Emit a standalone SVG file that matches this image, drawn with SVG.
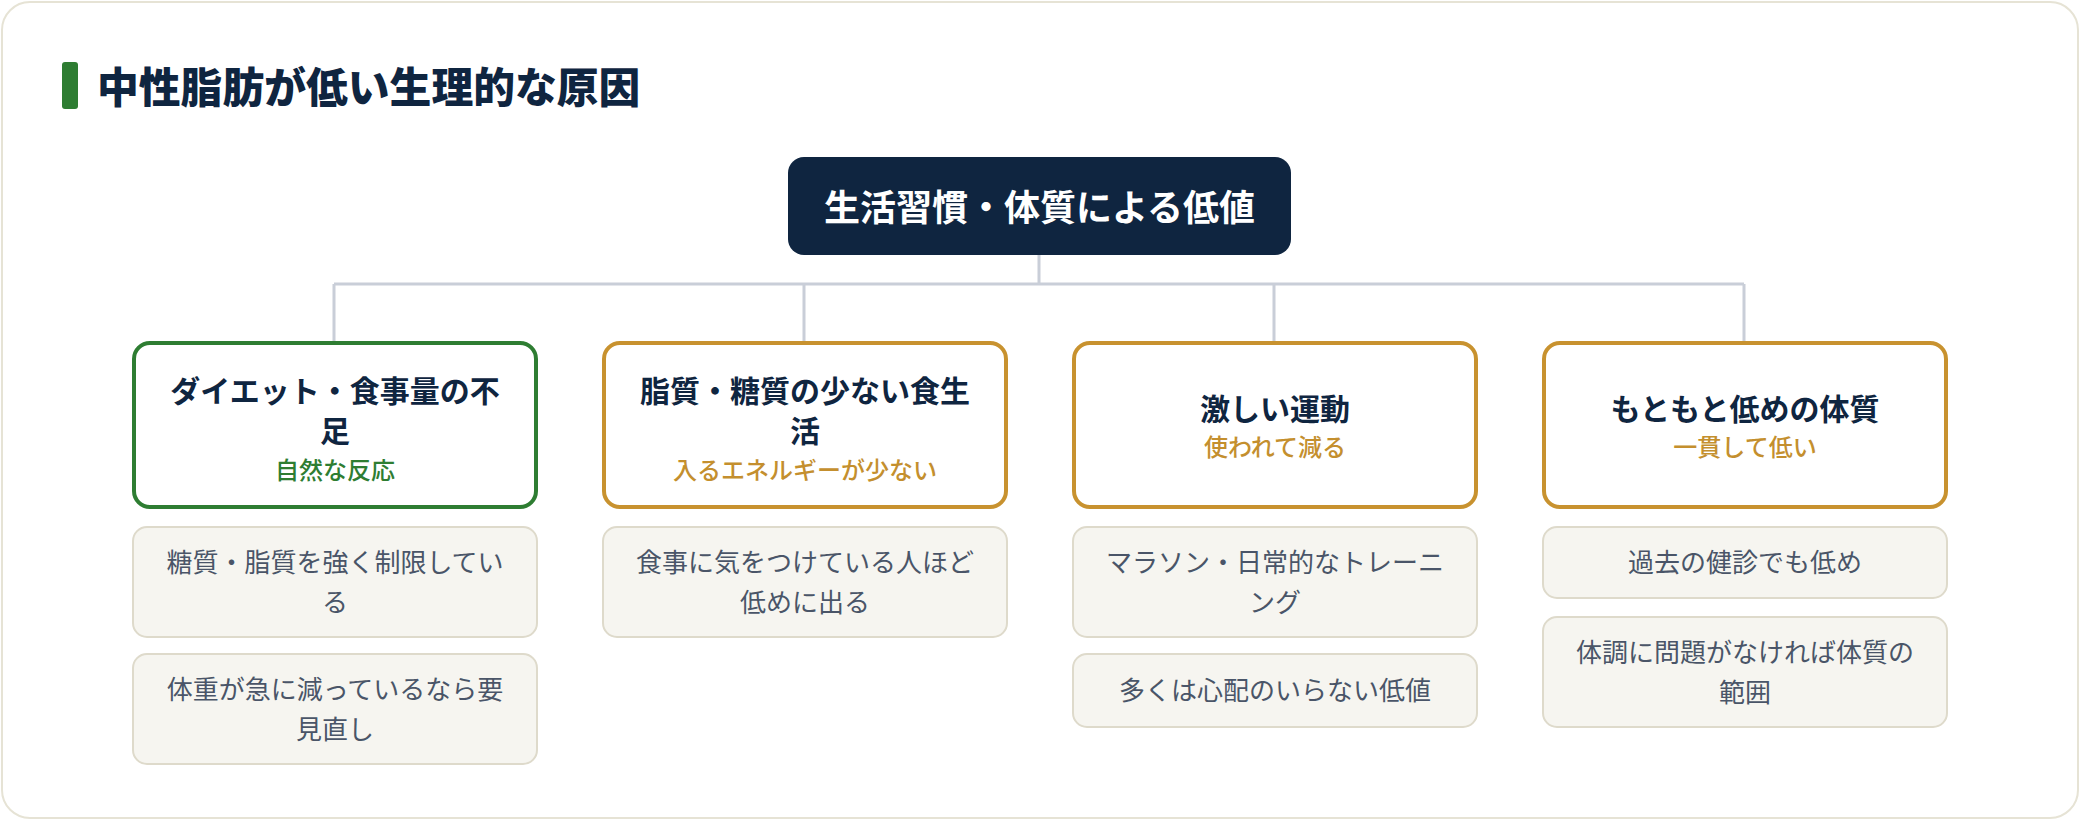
<svg xmlns="http://www.w3.org/2000/svg" width="2080" height="820" viewBox="0 0 2080 820">
<style>
text{font-family:"Noto Sans CJK JP","Noto Sans",sans-serif;text-anchor:middle}
.h{font-size:41.8px;font-weight:800;fill:#0f2540;text-anchor:start}
.root{fill:#0f2540}
.rt{font-size:36px;font-weight:700;fill:#ffffff}
.cb{fill:#ffffff;stroke-width:4}
.g{stroke:#2e7d32}
.o{stroke:#c8922f}
.ct{font-size:30px;font-weight:700;fill:#0f2540}
.sg{font-size:24px;font-weight:500;fill:#2e7d32}
.so{font-size:24px;font-weight:500;fill:#c48f2e}
.d{fill:#f6f5f0;stroke:#dedacb;stroke-width:2}
.dt{font-size:26px;font-weight:400;fill:#4a5568}
.c{fill:none;stroke:#c9ced8;stroke-width:3}
</style>
<rect x="0" y="0" width="2080" height="820" fill="#ffffff"/>
<rect x="2" y="2" width="2076" height="816" rx="28" fill="#ffffff" stroke="#e6e3d5" stroke-width="2"/>
<g id="title">
<rect x="62" y="62" width="16" height="47" rx="3" fill="#2e7d32"/>
<text class="h" x="97" y="103">中性脂肪が低い生理的な原因</text>
</g>
<g id="connectors">
<path class="c" d="M1039 255 V284 M334 284 H1744 M334 284 V341 M804 284 V341 M1274 284 V341 M1744 284 V341"/>
</g>
<g id="root">
<rect class="root" x="788" y="157" width="503" height="98" rx="16"/>
<text class="rt" x="1039.5" y="221">生活習慣・体質による低値</text>
</g>
<g id="cause1">
<rect class="cb g" x="134" y="343" width="402" height="164" rx="16"/>
<text class="ct" x="335" y="402">ダイエット・食事量の不</text>
<text class="ct" x="335" y="442">足</text>
<text class="sg" x="335" y="479">自然な反応</text>
</g>
<g id="cause2">
<rect class="cb o" x="604" y="343" width="402" height="164" rx="16"/>
<text class="ct" x="805" y="402">脂質・糖質の少ない食生</text>
<text class="ct" x="805" y="442">活</text>
<text class="so" x="805" y="479">入るエネルギーが少ない</text>
</g>
<g id="cause3">
<rect class="cb o" x="1074" y="343" width="402" height="164" rx="16"/>
<text class="ct" x="1275" y="420">激しい運動</text>
<text class="so" x="1275" y="456">使われて減る</text>
</g>
<g id="cause4">
<rect class="cb o" x="1544" y="343" width="402" height="164" rx="16"/>
<text class="ct" x="1745" y="420">もともと低めの体質</text>
<text class="so" x="1745" y="456">一貫して低い</text>
</g>
<g id="detail1a">
<rect class="d" x="133" y="527" width="404" height="110" rx="14"/>
<text class="dt" x="335" y="572">糖質・脂質を強く制限してい</text>
<text class="dt" x="335" y="612">る</text>
</g>
<g id="detail1b">
<rect class="d" x="133" y="654" width="404" height="110" rx="14"/>
<text class="dt" x="335" y="699">体重が急に減っているなら要</text>
<text class="dt" x="335" y="739">見直し</text>
</g>
<g id="detail2a">
<rect class="d" x="603" y="527" width="404" height="110" rx="14"/>
<text class="dt" x="805" y="572">食事に気をつけている人ほど</text>
<text class="dt" x="805" y="612">低めに出る</text>
</g>
<g id="detail3a">
<rect class="d" x="1073" y="527" width="404" height="110" rx="14"/>
<text class="dt" x="1275" y="572">マラソン・日常的なトレーニ</text>
<text class="dt" x="1275" y="612">ング</text>
</g>
<g id="detail3b">
<rect class="d" x="1073" y="654" width="404" height="73" rx="14"/>
<text class="dt" x="1275" y="700">多くは心配のいらない低値</text>
</g>
<g id="detail4a">
<rect class="d" x="1543" y="527" width="404" height="71" rx="14"/>
<text class="dt" x="1745" y="572">過去の健診でも低め</text>
</g>
<g id="detail4b">
<rect class="d" x="1543" y="617" width="404" height="110" rx="14"/>
<text class="dt" x="1745" y="662">体調に問題がなければ体質の</text>
<text class="dt" x="1745" y="702">範囲</text>
</g>
</svg>
